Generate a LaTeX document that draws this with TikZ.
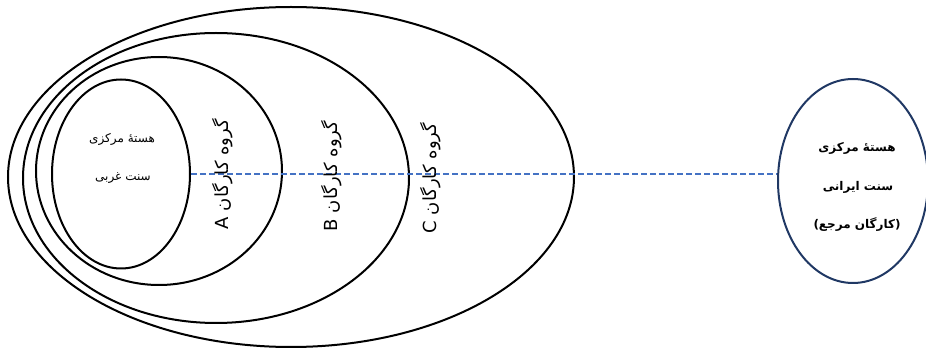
\documentclass[tikz,border=0pt]{standalone}
\usepackage{fontspec}
\usepackage{xcolor}
\definecolor{dashblue}{HTML}{4472C4}
\definecolor{navy}{HTML}{203864}
\newfontfamily\arabicfont[Script=Arabic]{DejaVu Sans}
\TeXXeTstate=1
\usetikzlibrary{shapes.geometric}

\begin{document}
\begin{tikzpicture}[x=0.75pt, y=-0.75pt,
  ring/.style={draw, ellipse, line width=1.5pt, inner sep=0pt},
  coretext/.style={font=\arabicfont\fontsize{9}{11}\selectfont},
  reftext/.style={font=\arabicfont\bfseries\fontsize{9}{11}\selectfont},
  grouplabel/.style={rotate=90, font=\arabicfont\fontsize{13.5}{15}\selectfont}]
  \useasboundingbox (0,0) rectangle (926,349);

  \node[ring, minimum width=424.5pt, minimum height=255pt]   (groupC)  at (291,177) {};
  \node[ring, minimum width=289.5pt, minimum height=217.5pt] (groupB)  at (216,178) {};
  \node[ring, minimum width=184.5pt, minimum height=171pt]   (groupA)  at (159,171) {};
  \node[ring, minimum width=103.5pt, minimum height=141.75pt] (core)   at (121,174) {};
  \node[ring, navy, minimum width=112.5pt, minimum height=153pt] (refcore) at (853,181) {};

  \draw[dashblue, line width=1.7pt, dash pattern=on 4.5pt off 2.25pt]
    (core.east) -- (core.east -| refcore.west);

  \node[coretext] (westtitle) at (122,139) {\beginR هستهٔ مرکزی\endR};
  \node[coretext] (westname)  at (123,178) {\beginR سنت غربی\endR};

  \node[grouplabel] (labelA) at (223,174) {\beginR گروه کارگان A\endR};
  \node[grouplabel] (labelB) at (332,176) {\beginR گروه کارگان B\endR};
  \node[grouplabel] (labelC) at (431,178) {\beginR گروه کارگان C\endR};

  \node[reftext] (reftitle) at (857,148) {\beginR هستهٔ مرکزی\endR};
  \node[reftext] (refname)  at (858,187) {\beginR سنت ایرانی\endR};
  \node[reftext] (refrole)  at (857,225) {\beginR(کارگان مرجع)\endR};
\end{tikzpicture}
\end{document}
